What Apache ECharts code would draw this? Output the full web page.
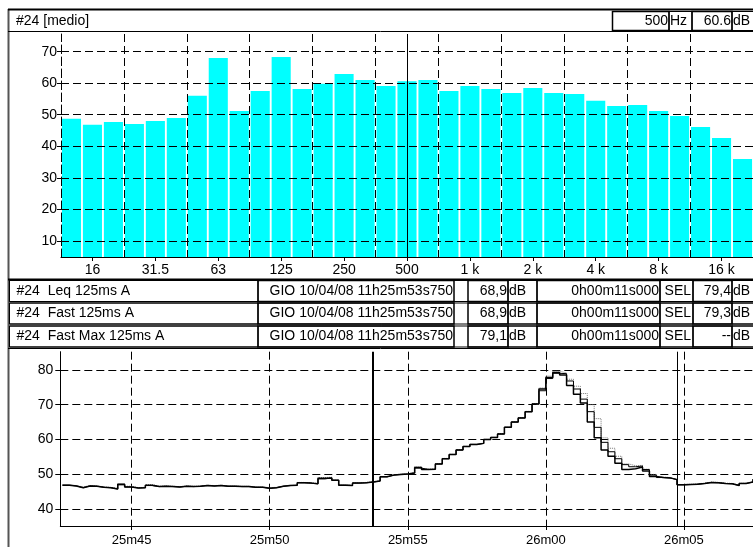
<!DOCTYPE html>
<html><head><meta charset="utf-8">
<script src="https://cdn.jsdelivr.net/npm/echarts@6/dist/echarts.min.js"></script>
<style>html,body{margin:0;padding:0;background:#fff}#c{width:753px;height:547px}</style>
</head><body><div id="c"></div>
<script>
// ---------- data ----------
const bandLabels = ['12.5','16','20','25','31.5','40','50','63','80','100','125','160','200','250','315','400','500','630','800','1 k','1.25 k','1.6 k','2 k','2.5 k','3.15 k','4 k','5 k','6.3 k','8 k','10 k','12.5 k','16 k','20 k'];
const bandLevels = [48.7,46.8,47.7,47.1,48.0,49.0,56.0,68.0,51.2,57.5,68.3,58.2,59.8,62.9,61.0,59.1,60.6,61.0,57.5,59.1,58.2,56.9,58.5,56.9,56.6,54.4,52.8,53.1,51.2,49.6,46.1,42.6,36.0];
const barTicks = [10,20,30,40,50,60,70];
const cursorBand = '500';

const timeTicks = [45,50,55,60,65];
const timeTickLabels = ['25m45','25m50','25m55','26m00','26m05'];
const levelTicks = [40,50,60,70,80];
const cursorTimes = [53.75, 64.75];
const sampleStart = 42.5, sampleStep = 0.25;

const leq = [46.9,46.7,46.2,46.7,46.6,46.3,46.2,45.8,47.2,46.4,
 46.1,46.2,46.9,46.5,46.6,46.5,46.4,46.6,46.5,46.6,
 46.8,46.7,46.8,46.6,46.6,46.5,46.5,46.3,46.3,46.0,
 46.2,46.6,46.8,46.9,47.6,47.5,47.3,48.9,49.0,48.3,
 46.9,46.8,47.5,47.6,47.8,48.1,49.3,49.8,50.0,50.1,
 50.4,52.0,51.4,51.5,53.0,54.5,55.7,57.0,58.0,58.6,
 58.9,60.0,60.6,61.6,63.5,65.0,66.2,68.0,70.2,74.5,
 77.8,79.2,78.5,75.5,73.0,70.5,65.0,60.5,57.0,55.2,
 53.2,51.4,51.6,52.1,51.0,49.4,49.1,49.0,48.5,47.0,
 47.1,47.2,47.4,47.7,47.6,47.4,47.3,46.8,47.4,47.8,
 48.6];
const fast = [46.9,46.7,46.2,46.7,46.6,46.3,46.2,45.8,47.0,46.4,
 46.1,46.2,46.8,46.5,46.6,46.5,46.4,46.6,46.5,46.6,
 46.8,46.7,46.8,46.6,46.6,46.5,46.5,46.3,46.3,46.0,
 46.2,46.6,46.8,46.9,47.6,47.5,47.3,48.7,49.0,48.3,
 46.9,46.8,47.5,47.6,47.8,48.1,49.3,49.8,50.0,50.1,
 50.4,51.8,51.4,51.5,53.0,54.5,55.7,57.0,58.0,58.6,
 58.9,60.0,60.6,61.6,63.5,65.0,66.2,68.0,70.2,74.0,
 77.5,79.0,78.9,76.8,74.5,71.6,68.0,63.5,59.2,56.5,
 54.5,52.8,52.2,52.4,51.4,49.8,49.1,49.0,48.5,47.0,
 47.1,47.2,47.4,47.7,47.6,47.4,47.3,46.8,47.4,47.8,
 48.6];
const fastMax = [47.0,46.8,46.4,46.8,46.7,46.4,46.3,46.0,47.3,46.6,
 46.2,46.3,47.1,46.6,46.7,46.6,46.5,46.7,46.6,46.7,
 46.9,46.8,46.9,46.7,46.7,46.6,46.6,46.4,46.4,46.2,
 46.3,46.7,46.9,47.0,47.7,47.6,47.4,49.1,49.2,48.5,
 47.0,46.9,47.6,47.7,47.9,48.2,49.4,49.9,50.1,50.2,
 50.5,52.2,51.6,51.6,53.1,54.6,55.8,57.1,58.1,58.7,
 59.0,60.1,60.7,61.7,63.6,65.1,66.3,68.1,70.3,74.8,
 78.2,79.6,79.1,77.3,75.3,73.2,70.0,66.0,60.5,57.5,
 55.2,53.0,52.5,52.6,51.5,50.0,49.3,49.1,48.6,47.1,
 47.2,47.3,47.5,47.8,47.7,47.5,47.4,46.9,47.5,47.9,
 48.7];

const headerTitle = '#24 [medio]';
const headerFreq = '500', headerFreqUnit = 'Hz';
const headerLevel = '60.6', headerLevelUnit = 'dB';
const rowNames = ['#24  Leq 125ms A','#24  Fast 125ms A','#24  Fast Max 125ms A'];
const rowDates = ['GIO 10/04/08 11h25m53s750','GIO 10/04/08 11h25m53s750','GIO 10/04/08 11h25m53s750'];
const rowLevels = ['68,9','68,9','79,1'];
const rowDurations = ['0h00m11s000','0h00m11s000','0h00m11s000'];
const rowSel = ['79,4','79,3','--'];

// ---------- build ----------
const FAM = '"Liberation Sans", Arial, Helvetica, sans-serif';
const FONT = '14px ' + FAM;
const toPts = arr => arr.map((v, i) => [sampleStart + i * sampleStep, v]);

const g = [];
function line(x1, y1, x2, y2, w, c) {
  g.push({type:'line', silent:true, z:50, shape:{x1, y1, x2, y2}, style:{stroke:c || '#000', lineWidth:w || 1}});
}
function box(x, y, w, h, lw) {
  g.push({type:'rect', silent:true, z:50, shape:{x, y, width:w, height:h}, style:{fill:'none', stroke:'#000', lineWidth:lw || 1}});
}
function txt(s, x, y, align) {
  g.push({type:'text', silent:true, z:60, style:{text:s, x, y, font:FONT, fill:'#000', textAlign:align || 'left', textVerticalAlign:'middle'}});
}
// outer frame
line(8.5, 9, 8.5, 547, 2, '#555');
line(8, 9.5, 753, 9.5, 2);
line(8, 31.5, 753, 31.5, 1);
txt(headerTitle, 16, 21);
box(612.5, 11.5, 56.5, 19, 1.5);
box(669, 11.5, 23, 19, 1);
box(692, 11.5, 40, 19, 1.5);
box(732, 11.5, 22, 19, 1);
txt(headerFreq, 668, 21, 'right');
txt(headerFreqUnit, 670, 21);
txt(headerLevel, 731, 21, 'right');
txt(headerLevelUnit, 733, 21);
line(8, 279.5, 753, 279.5, 2);
const rowTops = [280.5, 303, 326];
for (let r = 0; r < 3; r++) {
  const y = rowTops[r], h = 21, cy = y + h / 2;
  box(9.5, y, 745, h, 1);
  box(9.5, y, 248.5, h, 1);
  box(258, y, 196, h, 1.5);
  box(468, y, 40, h, 1.5);
  box(508, y, 29, h, 1);
  box(537, y, 123, h, 1.5);
  box(660, y, 33, h, 1);
  box(693, y, 39, h, 1.5);
  box(732, y, 22, h, 1);
  txt(rowNames[r], 16.5, cy);
  txt(rowDates[r], 453, cy, 'right');
  txt(rowLevels[r], 507, cy, 'right');
  txt('dB', 509, cy);
  txt(rowDurations[r], 659, cy, 'right');
  txt('SEL', 691, cy, 'right');
  txt(rowSel[r], 731, cy, 'right');
  txt('dB', 733, cy);
}
line(8, 348.5, 753, 348.5, 1);

const dash = [8, 4];
const option = {
  animation: false,
  backgroundColor: '#fff',
  textStyle: {fontFamily: FAM},
  grid: [
    {left: 61, top: 34, width: 693, height: 223},
    {left: 60.3, top: 351.7, width: 692.7, height: 175}
  ],
  xAxis: [{
    type: 'category', gridIndex: 0, data: bandLabels, boundaryGap: true, z: 5,
    axisLine: {show: true, lineStyle: {color: '#000', width: 1}},
    axisTick: {show: true, alignWithLabel: true, interval: i => i % 3 === 1, length: 4, lineStyle: {color: '#000'}},
    axisLabel: {interval: i => i % 3 === 1, color: '#000', fontSize: 14, margin: 6, fontFamily: FAM},
    splitLine: {show: true, interval: i => i % 3 === 0, lineStyle: {color: '#000', type: dash, width: 1}}
  }, {
    type: 'value', gridIndex: 1, min: 42.42, max: 67.5, z: 1,
    axisLine: {show: true, onZero: false, lineStyle: {color: '#000'}},
    axisTick: {show: true, customValues: timeTicks, length: 4, lineStyle: {color: '#000'}},
    axisLabel: {customValues: timeTicks, formatter: v => { const k = timeTicks.indexOf(v); return k >= 0 ? timeTickLabels[k] : ''; }, color: '#000', fontSize: 13, margin: 8, fontFamily: FAM},
    splitLine: {show: true, lineStyle: {color: '#000', type: dash, width: 1}}
  }],
  yAxis: [{
    type: 'value', gridIndex: 0, min: 4.9, max: 75.6, z: 5,
    axisLine: {show: true, lineStyle: {color: '#000', type: dash}},
    axisTick: {show: true, customValues: barTicks, length: 4, lineStyle: {color: '#000'}},
    axisLabel: {customValues: barTicks, color: '#000', fontSize: 14, margin: 4, fontFamily: FAM},
    splitLine: {show: true, lineStyle: {color: '#000', type: dash, width: 1}}
  }, {
    type: 'value', gridIndex: 1, min: 35.2, max: 85.2, z: 1,
    axisLine: {show: true, onZero: false, lineStyle: {color: '#000'}},
    axisTick: {show: true, customValues: levelTicks, length: 5, lineStyle: {color: '#000'}},
    axisLabel: {customValues: levelTicks, color: '#000', fontSize: 14, margin: 7, fontFamily: FAM},
    splitLine: {show: true, lineStyle: {color: '#000', type: dash, width: 1}}
  }],
  series: [{
    type: 'bar', xAxisIndex: 0, yAxisIndex: 0, data: bandLevels, barCategoryGap: '9%',
    itemStyle: {color: '#00FFFF'},
    markLine: {silent: true, symbol: ['none', 'none'], label: {show: false}, animation: false,
      lineStyle: {color: '#000', type: 'solid', width: 1}, data: [{xAxis: cursorBand}]}
  }, {
    type: 'line', xAxisIndex: 1, yAxisIndex: 1, data: toPts(fastMax), step: 'end', showSymbol: false, z: 3,
    lineStyle: {color: '#777', width: 1, type: 'dotted'}
  }, {
    type: 'line', xAxisIndex: 1, yAxisIndex: 1, data: toPts(fast), step: 'end', showSymbol: false, z: 4,
    lineStyle: {color: '#000', width: 1}
  }, {
    type: 'line', xAxisIndex: 1, yAxisIndex: 1, data: toPts(leq), step: 'end', showSymbol: false, z: 5,
    lineStyle: {color: '#000', width: 1.5},
    markLine: {silent: true, symbol: ['none', 'none'], label: {show: false}, animation: false,
      lineStyle: {color: '#000', type: 'solid', width: 1},
      data: [{xAxis: cursorTimes[0], lineStyle: {width: 2}}, {xAxis: cursorTimes[1], lineStyle: {width: 1}}]}
  }],
  graphic: g
};
const chart = echarts.init(document.getElementById('c'), null, {renderer: 'canvas'});
chart.setOption(option);
</script></body></html>
